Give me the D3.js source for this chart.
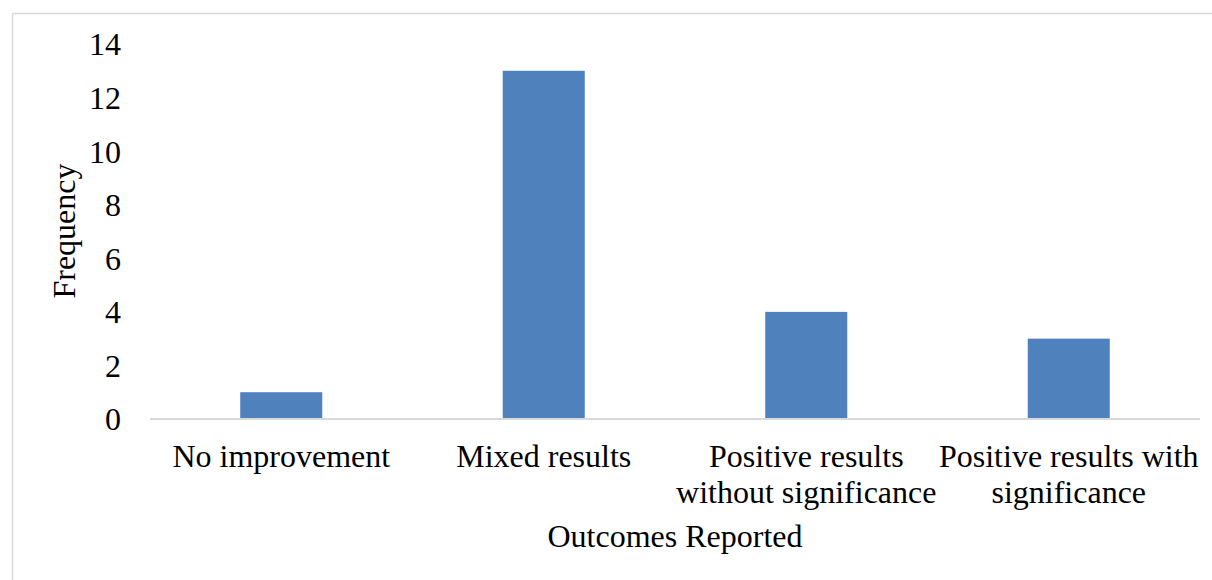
<!DOCTYPE html>
<html>
<head>
<meta charset="utf-8">
<script src="https://cdn.jsdelivr.net/npm/d3@7"></script>
<style>
  html, body { margin: 0; padding: 0; background: #fff; }
  svg { display: block; }
  text { font-family: "Liberation Serif", "Times New Roman", serif; fill: #000; }
</style>
</head>
<body>
<svg id="chart" width="1212" height="580"></svg>
<script>
// Outcome categories (multi-line labels split on "\n")
const categories = [
  "No improvement",
  "Mixed results",
  "Positive results\nwithout significance",
  "Positive results with\nsignificance"
];
// Number of studies reporting each outcome
const frequency = [1, 13, 4, 3];
// Y-axis tick values
const yTicks = [0, 2, 4, 6, 8, 10, 12, 14];

const W = 1212, H = 580;
const plot = { left: 150, right: 1200, top: 44, bottom: 419 };

const svg = d3.select("#chart");

// Chart-area frame
svg.append("rect")
  .attr("x", 12.5).attr("y", 13.5)
  .attr("width", W).attr("height", H)
  .attr("fill", "none")
  .attr("stroke", "#d9d9d9")
  .attr("stroke-width", 1.5);

const x = d3.scaleBand()
  .domain(categories)
  .range([plot.left, plot.right])
  .paddingInner(0.6875)
  .paddingOuter(0.34375);

const y = d3.scaleLinear()
  .domain([0, 14])
  .range([plot.bottom, plot.top]);

// Bars
svg.append("g")
  .selectAll("rect")
  .data(categories)
  .join("rect")
  .attr("x", d => x(d))
  .attr("width", x.bandwidth())
  .attr("y", (d, i) => y(frequency[i]))
  .attr("height", (d, i) => y(0) - y(frequency[i]))
  .attr("fill", "#4f81bd");

// Y axis: labels only, no line or ticks
const yAxis = svg.append("g")
  .attr("transform", "translate(121,0)")
  .call(d3.axisLeft(y).tickValues(yTicks).tickSize(0).tickPadding(0));
yAxis.select(".domain").remove();
yAxis.selectAll("text")
  .attr("font-size", 32)
  .attr("font-family", "Liberation Serif")
  .attr("dy", "0.34em");

// X axis: baseline and wrapped category labels
const xAxis = svg.append("g")
  .attr("transform", `translate(0,${plot.bottom})`)
  .call(d3.axisBottom(x).tickSize(0).tickFormat(""));
xAxis.select(".domain")
  .attr("stroke", "#d9d9d9")
  .attr("stroke-width", 2)
  .attr("d", `M${plot.left},0H${plot.right}`);

xAxis.selectAll(".tick").each(function(d) {
  const t = d3.select(this).append("text")
    .attr("text-anchor", "middle")
    .attr("font-size", 32)
    .attr("y", 48);
  d.split("\n").forEach((line, i) => {
    t.append("tspan").attr("x", 0).attr("dy", i === 0 ? 0 : 36).text(line);
  });
});

// Axis titles
svg.append("text")
  .attr("x", (plot.left + plot.right) / 2)
  .attr("y", 547)
  .attr("text-anchor", "middle")
  .attr("font-size", 32)
  .text("Outcomes Reported");

svg.append("text")
  .attr("transform", "translate(75,231) rotate(-90)")
  .attr("text-anchor", "middle")
  .attr("font-size", 32)
  .text("Frequency");
</script>
</body>
</html>
